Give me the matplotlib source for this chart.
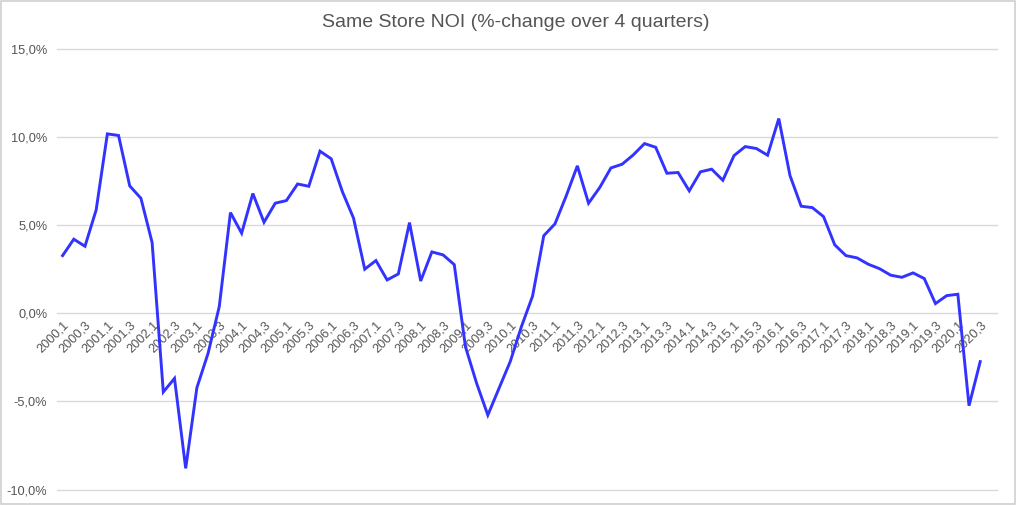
import matplotlib.pyplot as plt
from matplotlib.patches import Rectangle
from matplotlib.ticker import FuncFormatter

plt.rcParams["font.family"] = ["Liberation Sans", "DejaVu Sans"]

# quarterly categories 2000,1 .. 2020,4 (last one has no value yet)
years = list(range(2000, 2021))
quarters = [1, 2, 3, 4]
categories = [f"{y},{q}" for y in years for q in quarters]

noi_change = [
    3.27, 4.20, 3.80, 5.86,   # 2000
    10.17, 10.08, 7.22, 6.52,  # 2001
    4.01, -4.46, -3.69, -8.79,  # 2002
    -4.22, -2.27, 0.38, 5.71,  # 2003
    4.54, 6.79, 5.16, 6.24,   # 2004
    6.39, 7.33, 7.20, 9.19,   # 2005
    8.76, 6.90, 5.39, 2.50,   # 2006
    2.99, 1.89, 2.23, 5.14,   # 2007
    1.83, 3.48, 3.31, 2.76,   # 2008
    -1.90, -3.97, -5.77, -4.25,  # 2009
    -2.74, -0.76, 0.98, 4.40,  # 2010
    5.07, 6.65, 8.36, 6.24,   # 2011
    7.13, 8.24, 8.45, 8.98,   # 2012
    9.62, 9.41, 7.94, 7.98,   # 2013
    6.94, 8.02, 8.17, 7.54,   # 2014
    8.94, 9.45, 9.34, 8.96,   # 2015
    11.04, 7.81, 6.07, 5.99,  # 2016
    5.48, 3.88, 3.27, 3.14,   # 2017
    2.78, 2.53, 2.16, 2.04,   # 2018
    2.29, 1.97, 0.55, 1.00,   # 2019
    1.08, -5.24, -2.74,       # 2020
]

y_ticks = [-10, -5, 0, 5, 10, 15]

text_col = "#555555"
grid_col = "#d9d9d9"

fig = plt.figure(figsize=(10.16, 5.05), dpi=100)
fig.patches.append(Rectangle((0.001, 0.001), 0.998, 0.997, transform=fig.transFigure,
                             fill=False, edgecolor="#d0d0d0", linewidth=1.2))

ax = fig.add_axes([0.0561, 0.0303, 0.9252, 0.8733])

x = list(range(len(noi_change)))
ax.plot(x, noi_change, color="#3333ff", linewidth=2.1, solid_joinstyle="miter")

ax.set_xlim(-0.5, len(categories) - 0.5)
ax.set_ylim(-10, 15)
ax.set_yticks(y_ticks)
ax.yaxis.set_major_formatter(FuncFormatter(lambda v, p: f"{v:.1f}%".replace(".", ",")))
ax.grid(axis="y", color=grid_col, linewidth=1.0)
for gl in ax.get_ygridlines():
    gl.set_clip_on(False)
ax.set_axisbelow(True)

for s in ["top", "right", "left"]:
    ax.spines[s].set_visible(False)
ax.spines["bottom"].set_position(("data", 0))
ax.spines["bottom"].set_visible(False)

ax.set_xticks(range(0, len(categories), 2))
ax.set_xticklabels(categories[::2], rotation=45, ha="right", rotation_mode="anchor")
ax.tick_params(axis="x", length=0, pad=4, labelsize=9.2, colors=text_col)
ax.tick_params(axis="y", length=0, pad=7, labelsize=9.2, colors=text_col)

fig.text(0.508, 0.956, "Same Store NOI (%-change over 4 quarters)", ha="center", va="center",
         fontsize=14, color="#555555")

fig.savefig("out.png", dpi=100)
